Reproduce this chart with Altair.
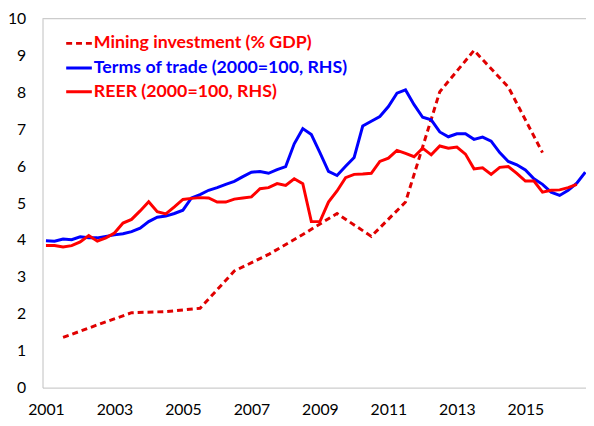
import altair as alt
import pandas as pd

# Quarterly series, 2001Q1 onwards (values in left-axis units as drawn)
tot = [3.98, 3.97, 4.03, 4.01, 4.09, 4.06, 4.06, 4.10, 4.14, 4.17, 4.23, 4.32,
       4.50, 4.62, 4.65, 4.72, 4.81, 5.14, 5.23, 5.35, 5.42, 5.51, 5.59, 5.72,
       5.84, 5.86, 5.81, 5.91, 5.99, 6.61, 7.02, 6.86, 6.37, 5.86, 5.75, 6.00,
       6.24, 7.09, 7.22, 7.35, 7.62, 7.98, 8.07, 7.67, 7.33, 7.26, 6.93, 6.80,
       6.88, 6.88, 6.73, 6.79, 6.68, 6.37, 6.13, 6.04, 5.90, 5.66, 5.51, 5.30,
       5.21, 5.35, 5.54, 5.84]
reer = [3.85, 3.85, 3.81, 3.85, 3.95, 4.12, 3.97, 4.06, 4.19, 4.46, 4.56, 4.79,
        5.04, 4.77, 4.71, 4.90, 5.10, 5.13, 5.15, 5.14, 5.03, 5.03, 5.11, 5.14,
        5.17, 5.39, 5.42, 5.53, 5.48, 5.66, 5.53, 4.50, 4.50, 5.03, 5.33, 5.69,
        5.78, 5.79, 5.81, 6.13, 6.22, 6.43, 6.35, 6.26, 6.49, 6.31, 6.55, 6.49,
        6.52, 6.33, 5.93, 5.96, 5.78, 5.97, 5.99, 5.81, 5.60, 5.60, 5.30, 5.35,
        5.36, 5.42, 5.51]
# Annual (mid-year) mining investment, % of GDP, 2001..2015
mining_years = [2001.5, 2002.5, 2003.5, 2004.5, 2005.5, 2006.5, 2007.5, 2008.5,
                2009.5, 2010.5, 2011.5, 2012.5, 2013.5, 2014.5, 2015.5]
mining = [1.36, 1.70, 2.03, 2.06, 2.15, 3.16, 3.61, 4.15, 4.72, 4.10, 5.03,
          8.02, 9.14, 8.15, 6.37]

x_labels = [2001, 2003, 2005, 2007, 2009, 2011, 2013, 2015]
y_labels = list(range(0, 11))

legend_labels = ["Mining investment (% GDP)", "Terms of trade (2000=100, RHS)",
                 "REER (2000=100, RHS)"]

BLUE = "#0000FF"
RED = "#FF0000"
DRED = "#E00000"
FONT = "Lato"

df_tot = pd.DataFrame({"t": [2001 + 0.25 * i for i in range(len(tot))], "v": tot})
df_reer = pd.DataFrame({"t": [2001 + 0.25 * i for i in range(len(reer))], "v": reer})
df_min = pd.DataFrame({"t": mining_years, "v": mining})

xs = alt.Scale(domain=[2000.9, 2016.77], nice=False, zero=False)
ys = alt.Scale(domain=[0, 10], nice=False)

xaxis = alt.Axis(values=x_labels, format="d", title=None, grid=False, ticks=False,
                 labelPadding=14, labelFlush=False, labelOverlap=False)
yaxis = alt.Axis(values=y_labels, format="d", title=None, grid=False, ticks=False,
                 labelPadding=17, labelOverlap=False, labelFlush=False)

X = alt.X("t:Q", scale=xs, axis=xaxis)
Y = alt.Y("v:Q", scale=ys, axis=yaxis)

top_border = alt.Chart(pd.DataFrame({"t": [2001.0], "v": [10]})).mark_rule(
    color="#BFBFBF", strokeWidth=1).encode(y=Y)

line_tot = alt.Chart(df_tot).mark_line(color=BLUE, strokeWidth=3, clip=True).encode(x=X, y=Y)
line_reer = alt.Chart(df_reer).mark_line(color=RED, strokeWidth=3, clip=True).encode(x=X, y=Y)
line_min = alt.Chart(df_min).mark_line(color=DRED, strokeWidth=3, strokeDash=[6, 4],
                                       clip=True).encode(x=X, y=Y)

# manual legend (coloured labels)
leg_rows = [25, 50, 74]
leg_colors = [RED, BLUE, RED]
leg_line_colors = [DRED, BLUE, RED]
leg_dash = [[6, 4], [1, 0], [1, 0]]
legend_layers = []
for lab, yy, tc, lc, dash in zip(legend_labels, leg_rows, leg_colors, leg_line_colors, leg_dash):
    legend_layers.append(
        alt.Chart(pd.DataFrame({"a": [0]})).mark_rule(
            color=lc, strokeWidth=3, strokeDash=dash).encode(
            x=alt.value(24), x2=alt.value(50), y=alt.value(yy))
    )
    legend_layers.append(
        alt.Chart(pd.DataFrame({"label": [lab]})).mark_text(
            align="left", baseline="middle", font=FONT, fontSize=18,
            fontWeight="bold", color=tc).encode(
            x=alt.value(52), y=alt.value(yy), text="label:N")
    )

chart = alt.layer(top_border, line_min, line_tot, line_reer, *legend_layers).properties(
    width=551, height=374,
    autosize=alt.AutoSizeParams(type="none"),
    padding={"left": 35, "top": 8, "right": 0, "bottom": 32},
).configure_view(stroke=None).configure_axis(
    domainColor="#BFBFBF", domainWidth=1, labelFont=FONT, labelFontSize=16,
    labelColor="#000000",
)

chart.save("out.html", embed_options={"renderer": "svg", "actions": False})
